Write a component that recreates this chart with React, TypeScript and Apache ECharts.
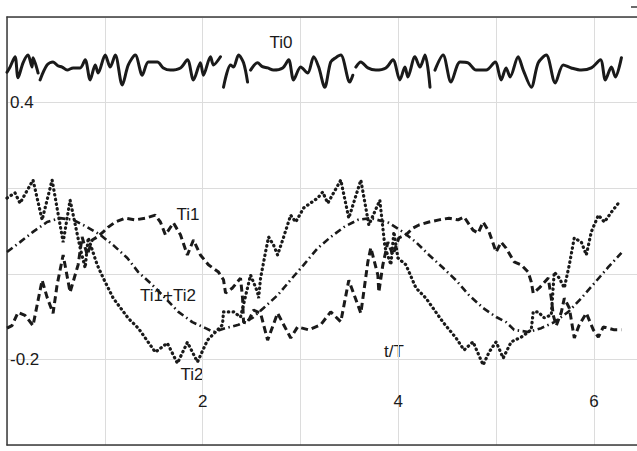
import React, { useEffect, useRef } from "react";
import * as echarts from "echarts";

// ---- data (t/T, value) ----
const ti0: (number | null)[][] = [
  [0, 0.471], [0.031, 0.483], [0.082, 0.507], [0.113, 0.458], [0.164, 0.493], [0.215, 0.511],
  [0.256, 0.483], [0.266, 0.505], [0.318, 0.469], [0.328, null],
  [0.338, 0.453], [0.41, 0.488], [0.471, 0.495], [0.52, 0.486], [0.564, 0.483], [0.615, 0.476],
  [0.676, 0.481], [0.748, 0.481], [0.799, 0.5], [0.85, 0.453], [0.902, 0.488], [0.932, 0.469],
  [1.004, 0.511], [1.055, 0.483], [1.107, 0.511], [1.178, 0.441], [1.24, 0.488], [1.311, 0.511],
  [1.383, 0.464], [1.445, 0.495], [1.537, 0.495], [1.598, 0.481], [1.67, 0.476], [1.773, 0.481],
  [1.844, 0.5], [1.906, 0.453], [1.977, 0.493], [2.008, 0.464], [2.08, 0.507], [2.111, 0.488],
  [2.182, 0.507], [2.197, null],
  [2.213, 0.436], [2.285, 0.488], [2.316, 0.483], [2.367, 0.511], [2.418, 0.493], [2.459, 0.448],
  [2.474, null],
  [2.49, 0.476], [2.561, 0.493], [2.61, 0.484], [2.664, 0.481], [2.725, 0.476], [2.818, 0.481],
  [2.879, 0.5], [2.93, 0.453], [3.002, 0.483], [3.074, 0.469], [3.135, 0.507], [3.186, 0.483],
  [3.248, 0.436], [3.309, 0.495], [3.361, 0.505], [3.412, 0.511], [3.504, 0.448], [3.535, 0.464],
  [3.55, null],
  [3.566, 0.483], [3.617, 0.495], [3.689, 0.481], [3.77, 0.476], [3.873, 0.481], [3.945, 0.5],
  [4.016, 0.453], [4.068, 0.483], [4.098, 0.46], [4.17, 0.507], [4.221, 0.483], [4.273, 0.511],
  [4.324, 0.436], [4.35, null],
  [4.375, 0.476], [4.457, 0.511], [4.539, 0.448], [4.631, 0.495], [4.713, 0.493], [4.795, 0.476],
  [4.898, 0.476], [4.99, 0.495], [5.051, 0.453], [5.102, 0.481], [5.143, 0.46], [5.225, 0.507],
  [5.277, 0.476], [5.359, 0.436], [5.43, 0.493], [5.512, 0.511], [5.604, 0.446], [5.686, 0.488],
  [5.768, 0.481], [5.871, 0.476], [5.973, 0.481], [6.066, 0.5], [6.117, 0.453], [6.178, 0.483],
  [6.219, 0.46], [6.281, 0.505],
];

const ti1: number[][] = [
  [0, -0.127], [0.051, -0.121], [0.113, -0.09], [0.184, -0.097], [0.266, -0.121], [0.307, -0.074],
  [0.359, -0.015], [0.41, -0.055], [0.471, -0.092], [0.512, -0.026], [0.574, 0.044], [0.645, -0.043],
  [0.727, 0.021], [0.768, 0.086], [0.82, 0.044], [0.871, 0.079], [0.922, 0.086], [0.984, 0.098],
  [1.035, 0.109], [1.107, 0.121], [1.209, 0.13], [1.311, 0.126], [1.414, 0.13], [1.516, 0.137],
  [1.568, 0.121], [1.619, 0.091], [1.701, 0.119], [1.773, 0.091], [1.844, 0.044], [1.906, 0.079],
  [1.977, 0.044], [2.059, 0.021], [2.162, 0.004], [2.213, -0.014], [2.234, -0.045], [2.305, -0.033],
  [2.387, -0.01], [2.408, -0.057], [2.418, -0.113], [2.459, -0.115], [2.52, -0.085], [2.592, -0.092],
  [2.664, -0.155], [2.766, -0.092], [2.9, -0.15], [2.971, -0.124], [3.084, -0.131], [3.207, -0.119],
  [3.309, -0.089], [3.412, -0.112], [3.494, -0.015], [3.617, -0.092], [3.689, 0.028], [3.719, 0.061],
  [3.791, -0.003], [3.801, -0.043], [3.842, 0.021], [3.893, 0.074], [3.945, 0.044], [4.006, 0.084],
  [4.078, 0.091], [4.15, 0.107], [4.211, 0.114], [4.314, 0.121], [4.416, 0.126], [4.518, 0.13],
  [4.611, 0.126], [4.672, 0.133], [4.764, 0.102], [4.816, 0.095], [4.867, 0.121], [4.928, 0.098],
  [5.0, 0.051], [5.051, 0.074], [5.102, 0.06], [5.184, 0.028], [5.256, 0.021], [5.328, 0.004],
  [5.359, -0.019], [5.379, -0.045], [5.441, -0.033], [5.533, -0.01], [5.564, -0.057], [5.584, -0.097],
  [5.615, -0.121], [5.666, -0.09], [5.697, -0.057], [5.748, -0.08], [5.799, -0.15], [5.85, -0.119],
  [5.922, -0.092], [5.994, -0.131], [6.045, -0.148], [6.096, -0.124], [6.148, -0.127], [6.209, -0.131],
  [6.281, -0.131],
];

const ti2: number[][] = [
  [0, 0.177], [0.082, 0.189], [0.133, 0.165], [0.266, 0.219], [0.359, 0.126], [0.461, 0.219],
  [0.574, 0.074], [0.645, 0.172], [0.748, 0.06], [0.799, 0.014], [0.83, 0.084], [0.922, 0.021],
  [0.984, -0.01], [1.086, -0.057], [1.24, -0.104], [1.342, -0.127], [1.516, -0.183], [1.639, -0.162],
  [1.742, -0.209], [1.844, -0.16], [1.947, -0.206], [2.049, -0.155], [2.131, -0.136], [2.203, -0.119],
  [2.213, -0.089], [2.316, -0.089], [2.387, -0.101], [2.49, -0.003], [2.561, -0.043], [2.572, -0.057],
  [2.592, -0.01], [2.643, 0.051], [2.674, 0.086], [2.725, 0.067], [2.766, 0.044], [2.818, 0.079],
  [2.9, 0.137], [2.951, 0.121], [3.033, 0.154], [3.176, 0.177], [3.227, 0.191], [3.279, 0.165],
  [3.412, 0.219], [3.494, 0.13], [3.617, 0.219], [3.699, 0.114], [3.811, 0.172], [3.863, 0.063],
  [3.924, 0.021], [3.955, 0.098], [3.996, 0.037], [4.078, 0.021], [4.18, -0.033], [4.283, -0.057],
  [4.457, -0.113], [4.59, -0.15], [4.672, -0.178], [4.764, -0.159], [4.867, -0.213], [4.928, -0.183],
  [5.0, -0.159], [5.072, -0.197], [5.154, -0.159], [5.256, -0.148], [5.359, -0.131], [5.379, -0.089],
  [5.43, -0.089], [5.492, -0.103], [5.564, -0.096], [5.594, 0.004], [5.646, -0.01], [5.697, -0.033],
  [5.748, 0.021], [5.799, 0.084], [5.871, 0.074], [5.922, 0.044], [5.973, 0.098], [6.045, 0.137],
  [6.107, 0.121], [6.178, 0.144], [6.26, 0.168],
];

const ti12: number[][] = [
  [0, 0.051], [0.133, 0.074], [0.266, 0.098], [0.41, 0.121], [0.543, 0.13], [0.676, 0.126],
  [0.82, 0.109], [0.953, 0.091], [1.086, 0.067], [1.23, 0.037], [1.342, 0.004], [1.486, -0.026],
  [1.619, -0.057], [1.752, -0.089], [1.895, -0.113], [2.029, -0.127], [2.111, -0.136], [2.234, -0.127],
  [2.367, -0.119], [2.51, -0.103], [2.623, -0.08], [2.766, -0.05], [2.9, -0.014], [3.033, 0.021],
  [3.176, 0.06], [3.309, 0.086], [3.443, 0.109], [3.586, 0.126], [3.719, 0.13], [3.904, 0.119],
  [4.047, 0.098], [4.18, 0.074], [4.314, 0.044], [4.457, 0.014], [4.59, -0.015], [4.723, -0.05],
  [4.867, -0.08], [5.0, -0.101], [5.102, -0.113], [5.184, -0.131], [5.328, -0.136], [5.461, -0.127],
  [5.594, -0.113], [5.738, -0.089], [5.871, -0.057], [6.004, -0.022], [6.148, 0.016], [6.281, 0.049],
];

const xTickLabels = [2, 4, 6];
const yTickLabels = [0.4, -0.2];

const FONT = "'Liberation Sans', Arial, sans-serif";
const INK = "#1a1a1a";

export default function App() {
  const ref = useRef<HTMLDivElement>(null);
  useEffect(() => {
    if (!ref.current) return;
    const chart = echarts.init(ref.current, undefined, { renderer: "svg" });
    const txt = (text: string, x: number, y: number) => ({
      type: "text",
      x,
      y,
      style: { text, fill: INK, font: `17px ${FONT}`, align: "center", verticalAlign: "middle" },
    });
    chart.setOption({
      animation: false,
      backgroundColor: "#ffffff",
      grid: { left: 7, right: 0, top: 17, bottom: 6, containLabel: false },
      xAxis: [
        {
          type: "value",
          min: 0,
          max: 6.44,
          interval: 1,
          position: "bottom",
          axisLine: { show: true, onZero: false, lineStyle: { color: "#3a3a3a", width: 1.5 } },
          axisTick: { show: false },
          splitLine: { show: true, lineStyle: { color: "#dcdcdc", width: 1 } },
          axisLabel: {
            inside: true,
            margin: 35,
            color: INK,
            fontFamily: FONT,
            fontSize: 17,
            showMinLabel: false,
            showMaxLabel: false,
            formatter: (v: number) => (xTickLabels.some((t) => Math.abs(t - v) < 1e-6) ? String(v) : ""),
          },
        },
        {
          type: "value",
          min: 0,
          max: 6.44,
          position: "top",
          axisLine: { show: true, onZero: false, lineStyle: { color: "#3a3a3a", width: 1.5 } },
          axisTick: { show: false },
          axisLabel: { show: false },
          splitLine: { show: false },
        },
      ],
      yAxis: {
        type: "value",
        min: -0.4,
        max: 0.6,
        interval: 0.2,
        axisLine: { show: true, onZero: false, lineStyle: { color: "#3a3a3a", width: 1.5 } },
        axisTick: { show: false },
        splitLine: { show: true, lineStyle: { color: "#dcdcdc", width: 1 } },
        axisLabel: {
          inside: true,
          margin: 3,
          color: INK,
          fontFamily: FONT,
          fontSize: 17,
          align: "left",
          formatter: (v: number) => (yTickLabels.some((t) => Math.abs(t - v) < 1e-6) ? String(Math.round(v * 10) / 10) : ""),
        },
      },
      series: [
        {
          name: "Ti0",
          type: "line",
          data: ti0,
          showSymbol: false,
          connectNulls: false,
          smooth: 0.3,
          lineStyle: { color: INK, width: 3, join: "round", cap: "round" },
        },
        {
          name: "Ti1",
          type: "line",
          data: ti1,
          showSymbol: false,
          lineStyle: { color: INK, width: 3, type: [7, 4] },
        },
        {
          name: "Ti2",
          type: "line",
          data: ti2,
          showSymbol: false,
          lineStyle: { color: INK, width: 3.2, type: [0.5, 4.3], cap: "round" },
        },
        {
          name: "Ti1+Ti2",
          type: "line",
          data: ti12,
          showSymbol: false,
          lineStyle: { color: INK, width: 2.6, type: [7, 3.5, 1.5, 3.5] },
        },
      ],
      graphic: [
        txt("Ti0", 281, 42),
        txt("Ti1", 188, 214),
        txt("Ti1+Ti2", 168, 295),
        txt("Ti2", 192, 374),
        txt("t/T", 394, 351),
        { type: "line", shape: { x1: 631, y1: 7, x2: 637, y2: 7 }, style: { stroke: "#3a3a3a", lineWidth: 1.5 } },
      ],
    });
    return () => chart.dispose();
  }, []);
  return (
    <div
      ref={ref}
      style={{ position: "fixed", left: 0, top: 0, width: 637, height: 451, background: "#fff" }}
    />
  );
}
